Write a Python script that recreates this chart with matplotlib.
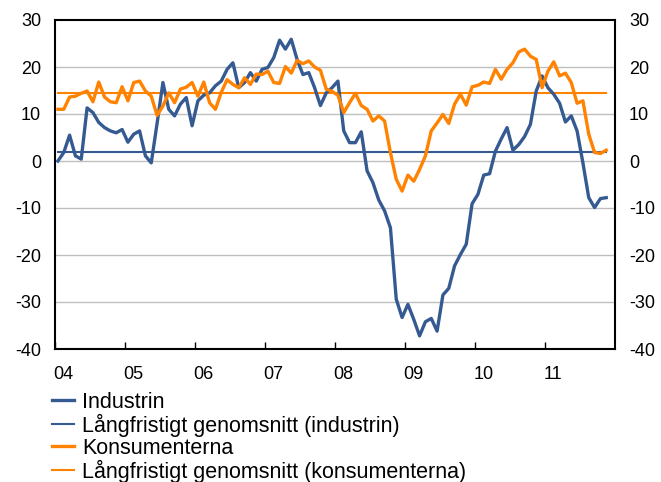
import matplotlib
matplotlib.use("Agg")
import matplotlib.pyplot as plt
import numpy as np

# Månadsdata jan 2004 - nov 2011 (nettotal)
industrin = [
    0.0, 1.8, 5.5, 1.1, 0.4, 11.3, 10.3, 8.2, 7.1, 6.4, 6.0, 6.7,
    4.0, 5.7, 6.4, 1.1, -0.4, 8.0, 16.7, 11.0, 9.6, 12.1, 13.5, 7.5,
    12.8, 14.0, 14.5, 16.0, 17.0, 19.5, 20.9, 15.6, 16.7, 18.8, 17.0, 19.5,
    19.9, 22.0, 25.7, 23.8, 25.9, 21.6, 18.4, 18.8, 15.6, 11.8, 14.5, 15.6,
    17.0, 6.4, 3.9, 3.9, 6.2, -2.1, -4.6, -8.3, -10.6, -14.2, -29.4, -33.3,
    -30.5, -33.7, -37.2, -34.2, -33.5, -36.2, -28.5, -27.1, -22.3, -19.9, -17.7, -9.1,
    -7.1, -3.0, -2.7, 2.1, 4.7, 7.1, 2.3, 3.5, 5.2, 7.8, 14.9, 18.1,
    15.6, 14.2, 12.3, 8.3, 9.6, 6.4, -0.4, -7.8, -9.9, -8.0, -7.8,
]
konsumenterna = [
    11.0, 11.0, 13.6, 13.8, 14.4, 14.9, 12.6, 16.8, 13.6, 12.6, 12.4, 15.8,
    12.8, 16.7, 17.0, 14.9, 13.8, 9.7, 11.7, 14.5, 12.4, 15.3, 15.7, 16.7,
    13.8, 16.8, 12.4, 11.0, 14.6, 17.3, 16.3, 15.6, 17.7, 16.3, 18.5, 18.4,
    19.1, 16.7, 16.5, 20.1, 18.7, 21.4, 20.7, 21.3, 20.0, 19.3, 15.3, 14.8,
    14.0, 10.3, 12.4, 14.4, 11.8, 11.0, 8.5, 9.6, 8.5, 1.8, -3.9, -6.4,
    -3.0, -4.3, -1.8, 1.1, 6.4, 8.1, 9.9, 8.0, 12.1, 14.2, 11.9, 15.8,
    16.1, 16.8, 16.5, 19.5, 17.4, 19.5, 20.9, 23.2, 23.8, 22.3, 21.6, 15.6,
    19.1, 21.1, 18.1, 18.7, 16.7, 12.3, 12.8, 5.7, 1.8, 1.6, 2.3,
]
snitt_industrin = 2.0
snitt_konsumenterna = 14.4

ar = list(range(2004, 2012))
ar_etiketter = ["04", "05", "06", "07", "08", "09", "10", "11"]
y_ticks = [30, 20, 10, 0, -10, -20, -30, -40]

BLA = "#355A92"
ORANGE = "#FF8200"

plt.rcParams["font.family"] = ["Liberation Sans", "DejaVu Sans"]
plt.rcParams["axes.unicode_minus"] = False

n = len(industrin)
x = 2004 + (np.arange(n) + 0.5) / 12

fig = plt.figure(figsize=(6.61, 4.82), dpi=100)
ax = fig.add_axes([55 / 661, 1 - 349 / 482, 560 / 661, 329 / 482])

for g in y_ticks[1:-1]:
    ax.axhline(g, color="#BFBFBF", lw=1.0, zorder=1)

ax.plot(x, industrin, color=BLA, lw=2.4, label="Industrin", zorder=4)
ax.plot(x, [snitt_industrin] * n, color=BLA, lw=1.5,
        label="Långfristigt genomsnitt (industrin)", zorder=3)
ax.plot(x, konsumenterna, color=ORANGE, lw=2.4, label="Konsumenterna", zorder=4)
ax.plot(x, [snitt_konsumenterna] * n, color=ORANGE, lw=1.5,
        label="Långfristigt genomsnitt (konsumenterna)", zorder=3)

ax.set_xlim(2004, 2012)
ax.set_ylim(-40, 30)
ax.set_yticks(y_ticks)
ax.tick_params(axis="y", length=0, labelsize=13, labelright=True,
               pad=10)
ax.set_xticks(ar)
ax.set_xticklabels([])
ax.tick_params(axis="x", which="major", direction="in", length=5,
               width=1, color="black")
ax.set_xticks([a + 0.12 for a in ar], minor=True)
ax.set_xticklabels(ar_etiketter, minor=True)
ax.tick_params(axis="x", which="minor", length=0, labelsize=13, pad=12)

for s in ax.spines.values():
    s.set_linewidth(1.5)
    s.set_color("black")

fig.legend(loc="upper left", bbox_to_anchor=(52 / 661, 1 - 392 / 482),
           frameon=False, fontsize=15.5, handlelength=1.0,
           handletextpad=0.4, labelspacing=0.04, borderpad=0,
           borderaxespad=0)

fig.savefig("out.png", dpi=100)
